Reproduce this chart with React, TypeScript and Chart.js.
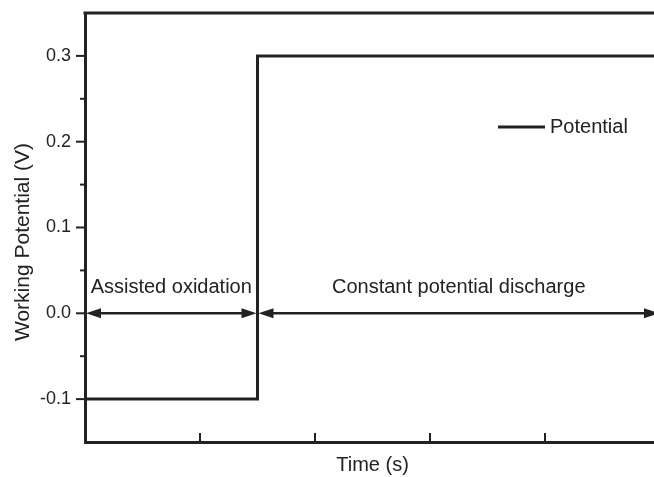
import React, { useEffect, useRef } from "react";
import { Chart, registerables } from "chart.js";

Chart.register(...registerables);

// Data
const timeValues = [0, 1.5, 1.5, 5];
const potentialValues = [-0.1, -0.1, 0.3, 0.3];
const seriesLabel = "Potential";
const yMajorTicks = [-0.1, 0.0, 0.1, 0.2, 0.3];
const yMinorTicks = [-0.15, -0.05, 0.05, 0.15, 0.25, 0.35];
const xTicks = [1, 2, 3, 4];
const arrowStarts = [0, 1.5];
const arrowEnds = [1.5, 5];
const arrowY = 0;
const regionLabels = ["Assisted oxidation", "Constant potential discharge"];
const regionLabelX = [0.75, 3.25];
const regionLabelY = 0.03;
const xMin = 0;
const xMax = 5;
const yMin = -0.15;
const yMax = 0.35;
const yTitle = "Working Potential (V)";
const xTitle = "Time (s)";

const INK = "#222222";
const FONT = "'Liberation Sans', Arial, sans-serif";

const overlayPlugin = {
  id: "overlay",
  afterDraw(chart: any) {
    const { ctx, chartArea } = chart;
    const xs = chart.scales.x;
    const ys = chart.scales.y;
    ctx.save();
    ctx.strokeStyle = INK;
    ctx.fillStyle = INK;
    // top frame
    ctx.lineWidth = 3;
    ctx.beginPath();
    ctx.moveTo(chartArea.left - 1.5, chartArea.top);
    ctx.lineTo(chartArea.right, chartArea.top);
    ctx.stroke();
    // y ticks (outward)
    ctx.lineWidth = 2;
    const ax = chartArea.left;
    yMajorTicks.forEach((v) => {
      const p = ys.getPixelForValue(v);
      ctx.beginPath();
      ctx.moveTo(ax - 9, p);
      ctx.lineTo(ax, p);
      ctx.stroke();
    });
    yMinorTicks.forEach((v) => {
      const p = ys.getPixelForValue(v);
      if (p < chartArea.top + 2 || p > chartArea.bottom - 2) return;
      ctx.beginPath();
      ctx.moveTo(ax - 5, p);
      ctx.lineTo(ax, p);
      ctx.stroke();
    });
    // x ticks (inward)
    xTicks.forEach((v) => {
      const p = xs.getPixelForValue(v);
      ctx.beginPath();
      ctx.moveTo(p, chartArea.bottom);
      ctx.lineTo(p, chartArea.bottom - 9);
      ctx.stroke();
    });
    // arrows
    const head = 15;
    const hw = 5;
    const y0 = ys.getPixelForValue(arrowY);
    const drawHead = (tipX: number, dir: number) => {
      ctx.beginPath();
      ctx.moveTo(tipX, y0);
      ctx.lineTo(tipX - dir * head, y0 - hw);
      ctx.lineTo(tipX - dir * head, y0 + hw);
      ctx.closePath();
      ctx.fill();
    };
    arrowStarts.forEach((s, i) => {
      const a = xs.getPixelForValue(s) + 1;
      const b = xs.getPixelForValue(arrowEnds[i]) - 1;
      ctx.lineWidth = 2.6;
      ctx.beginPath();
      ctx.moveTo(a + head - 2, y0);
      ctx.lineTo(b - head + 2, y0);
      ctx.stroke();
      drawHead(a, -1);
      drawHead(b, 1);
    });
    // region labels
    ctx.font = `20px ${FONT}`;
    ctx.textAlign = "center";
    ctx.textBaseline = "middle";
    regionLabels.forEach((t, i) => {
      ctx.fillText(t, xs.getPixelForValue(regionLabelX[i]), ys.getPixelForValue(regionLabelY));
    });
    // legend
    const ly = 127;
    ctx.lineWidth = 3;
    ctx.beginPath();
    ctx.moveTo(498, ly);
    ctx.lineTo(545, ly);
    ctx.stroke();
    ctx.textAlign = "left";
    ctx.fillText(seriesLabel, 550, ly);
    // y title
    ctx.save();
    ctx.translate(23, 242);
    ctx.rotate(-Math.PI / 2);
    ctx.font = `21px ${FONT}`;
    ctx.textAlign = "center";
    ctx.fillText(yTitle, 0, 0);
    ctx.restore();
    ctx.restore();
  },
};

export default function App() {
  const ref = useRef<HTMLCanvasElement | null>(null);
  useEffect(() => {
    if (!ref.current) return;
    const chart = new Chart(ref.current, {
      type: "line",
      data: {
        datasets: [
          {
            label: seriesLabel,
            data: timeValues.map((t, i) => ({ x: t, y: potentialValues[i] })),
            borderColor: INK,
            borderWidth: 3,
            pointRadius: 0,
            fill: false,
            tension: 0,
          },
        ],
      },
      options: {
        animation: false,
        responsive: false,
        layout: { padding: { top: 13, right: 0, left: 0, bottom: 0 } },
        plugins: { legend: { display: false }, tooltip: { enabled: false } },
        scales: {
          x: {
            type: "linear",
            min: xMin,
            max: xMax,
            grid: { display: true, drawOnChartArea: false, drawTicks: false },
            border: { display: true, color: INK, width: 3 },
            ticks: { display: false },
            title: {
              display: true,
              text: xTitle,
              color: INK,
              font: { family: FONT, size: 20 },
              padding: { top: 0, bottom: 0 },
            },
            afterFit: (s: any) => {
              s.height = 35;
              s.paddingLeft = 0;
              s.paddingRight = 0;
            },
          },
          y: {
            type: "linear",
            min: yMin,
            max: yMax,
            grid: { display: true, drawOnChartArea: false, drawTicks: false },
            border: { display: true, color: INK, width: 3 },
            ticks: {
              stepSize: 0.05,
              padding: 14,
              color: INK,
              font: { family: FONT, size: 18 },
              callback: (v: any) => {
                const n = Number(v);
                const r = Math.round(n * 100);
                if (r % 10 !== 0) return "";
                if (Math.abs(n - yMax) < 1e-9 || Math.abs(n - yMin) < 1e-9) return "";
                return n.toFixed(1);
              },
            },
            title: { display: false },
            afterFit: (s: any) => {
              s.width = 85;
              s.paddingTop = 0;
              s.paddingBottom = 0;
            },
          },
        },
      },
      plugins: [overlayPlugin],
    } as any);
    return () => chart.destroy();
  }, []);
  return (
    <div style={{ position: "fixed", left: 0, top: 0, width: 654, height: 477, overflow: "hidden", background: "#fff" }}>
      <canvas ref={ref} width={660} height={477} style={{ display: "block" }} />
    </div>
  );
}
